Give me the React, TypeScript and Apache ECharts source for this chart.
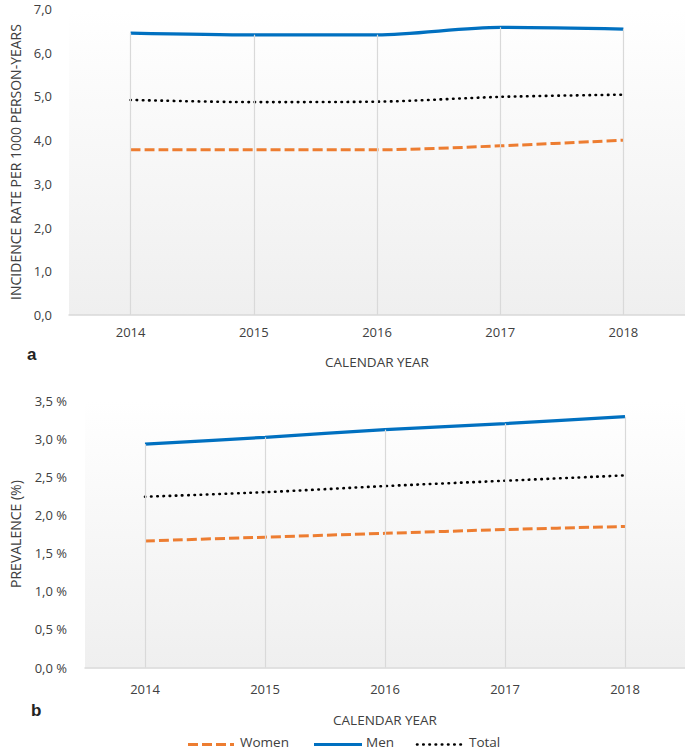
import React, { useEffect, useRef } from "react";
import * as echarts from "echarts";

const years = ["2014", "2015", "2016", "2017", "2018"];
const incWomen = [3.78, 3.78, 3.78, 3.87, 4.0];
const incMen = [6.45, 6.41, 6.41, 6.58, 6.54];
const incTotal = [4.92, 4.87, 4.88, 4.99, 5.04];
const prevWomen = [1.66, 1.71, 1.76, 1.81, 1.85];
const prevMen = [2.93, 3.02, 3.12, 3.2, 3.29];
const prevTotal = [2.24, 2.3, 2.38, 2.45, 2.52];
const legendNames = ["Women", "Men", "Total"];

const FONT = "Open Sans";
const TXT = "#404040";
const AXISC = "#d9d9d9";
const C_WOMEN = "#ED7D31";
const C_MEN = "#0070C0";
const C_TOTAL = "#000000";

const bgGrad = {
  type: "linear",
  x: 0,
  y: 0,
  x2: 0,
  y2: 1,
  colorStops: [
    { offset: 0, color: "#ffffff" },
    { offset: 1, color: "#efefef" },
  ],
};

function dropLines(vals: number[]) {
  return vals.map((v, i) => [{ coord: [i, 0] }, { coord: [i, v] }]);
}

export default function App() {
  const ref = useRef<HTMLDivElement>(null);
  useEffect(() => {
    const chart = echarts.init(ref.current!, undefined, { renderer: "svg" });
    const xAxisBase = (gridIndex: number, margin: number, nameGap: number) => ({
      type: "category",
      gridIndex,
      data: years,
      boundaryGap: true,
      name: "CALENDAR YEAR",
      nameLocation: "middle",
      nameGap,
      nameTextStyle: { fontFamily: FONT, fontSize: 13.5, color: TXT },
      axisLine: { show: true, lineStyle: { color: AXISC, width: 1.5 } },
      axisTick: { show: false },
      axisLabel: { margin, fontFamily: FONT, fontSize: 13, color: TXT },
      splitLine: { show: false },
    });
    const lineS = (name: string, data: number[], idx: number, extra: any) => ({
      name,
      type: "line",
      xAxisIndex: idx,
      yAxisIndex: idx,
      data,
      smooth: 0.3,
      symbol: "none",
      z: 3,
      ...extra,
    });
    const womenLS = { color: C_WOMEN, width: 3, type: [10, 4] };
    const menLS = { color: C_MEN, width: 3.2 };
    const totalLS = { color: C_TOTAL, width: 2.6, type: [0.5, 5.7], cap: "round" };
    const women = (data: number[], idx: number) =>
      lineS("Women", data, idx, {
        itemStyle: { color: C_WOMEN },
        lineStyle: womenLS,
      });
    const total = (data: number[], idx: number) =>
      lineS("Total", data, idx, {
        itemStyle: { color: C_TOTAL },
        lineStyle: totalLS,
      });
    const men = (data: number[], idx: number) =>
      lineS("Men", data, idx, {
        z: 2,
        itemStyle: { color: C_MEN },
        lineStyle: menLS,
        markLine: {
          silent: true,
          symbol: "none",
          animation: false,
          label: { show: false },
          lineStyle: { color: AXISC, width: 1.2, type: "solid" },
          emphasis: { disabled: true },
          data: dropLines(data),
        },
      });

    // legend drawn as graphic items (line samples + labels)
    const LY = 744.5;
    const legendItems = [
      { x1: 188, x2: 234, tx: 240, style: { stroke: C_WOMEN, lineWidth: 3, lineDash: [10, 4] } },
      { x1: 314, x2: 362, tx: 366, style: { stroke: C_MEN, lineWidth: 3.2 } },
      { x1: 417, x2: 465, tx: 469, style: { stroke: C_TOTAL, lineWidth: 2.6, lineDash: [0.5, 5.7], lineCap: "round" } },
    ];
    const legendGraphics: any[] = [];
    legendItems.forEach((it, i) => {
      legendGraphics.push({
        type: "line",
        shape: { x1: it.x1, y1: LY, x2: it.x2, y2: LY },
        style: it.style,
        silent: true,
      });
      legendGraphics.push({
        type: "text",
        x: it.tx,
        y: 742,
        style: {
          text: legendNames[i],
          fontFamily: FONT,
          fontSize: 13.5,
          fill: TXT,
          textVerticalAlign: "middle",
          verticalAlign: "middle",
        },
        silent: true,
      });
    });

    chart.setOption({
      animation: false,
      backgroundColor: "#ffffff",
      textStyle: { fontFamily: FONT },
      grid: [
        {
          left: 64,
          top: 9,
          width: 622,
          height: 306,
          show: true,
          borderWidth: 0,
          backgroundColor: bgGrad,
        },
        {
          left: 79.5,
          top: 400.7,
          width: 608,
          height: 266.8,
          show: true,
          borderWidth: 0,
          backgroundColor: bgGrad,
        },
      ],
      xAxis: [xAxisBase(0, 10, 40), xAxisBase(1, 15, 45)],
      yAxis: [
        {
          type: "value",
          gridIndex: 0,
          min: 0,
          max: 7,
          interval: 1,
          name: "INCIDENCE RATE PER 1000 PERSON-YEARS",
          nameLocation: "middle",
          nameGap: 47,
          nameTextStyle: { fontFamily: FONT, fontSize: 14, color: TXT },
          axisLine: { show: false },
          axisTick: { show: false },
          splitLine: { show: false },
          axisLabel: {
            margin: 17,
            fontFamily: FONT,
            fontSize: 13,
            color: TXT,
            formatter: (v: number) => v.toFixed(1).replace(".", ","),
          },
        },
        {
          type: "value",
          gridIndex: 1,
          min: 0,
          max: 3.5,
          interval: 0.5,
          name: "PREVALENCE (%)",
          nameLocation: "middle",
          nameGap: 63,
          nameTextStyle: { fontFamily: FONT, fontSize: 14, color: TXT },
          axisLine: { show: false },
          axisTick: { show: false },
          splitLine: { show: false },
          axisLabel: {
            margin: 18,
            fontFamily: FONT,
            fontSize: 13,
            color: TXT,
            formatter: (v: number) => v.toFixed(1).replace(".", ",") + " %",
          },
        },
      ],
      graphic: [
        {
          type: "text",
          left: 27,
          top: 346,
          style: {
            text: "a",
            fontFamily: "Liberation Sans",
            fontWeight: "bold",
            fontSize: 17,
            fill: "#222222",
          },
        },
        {
          type: "text",
          left: 31,
          top: 702,
          style: {
            text: "b",
            fontFamily: "Liberation Sans",
            fontWeight: "bold",
            fontSize: 17,
            fill: "#222222",
          },
        },
        ...legendGraphics,
      ],
      series: [
        men(incMen, 0),
        women(incWomen, 0),
        total(incTotal, 0),
        men(prevMen, 1),
        women(prevWomen, 1),
        total(prevTotal, 1),
      ],
    });
    return () => chart.dispose();
  }, []);
  return (
    <div
      ref={ref}
      style={{ position: "fixed", left: 0, top: 0, width: 685, height: 752 }}
    />
  );
}
